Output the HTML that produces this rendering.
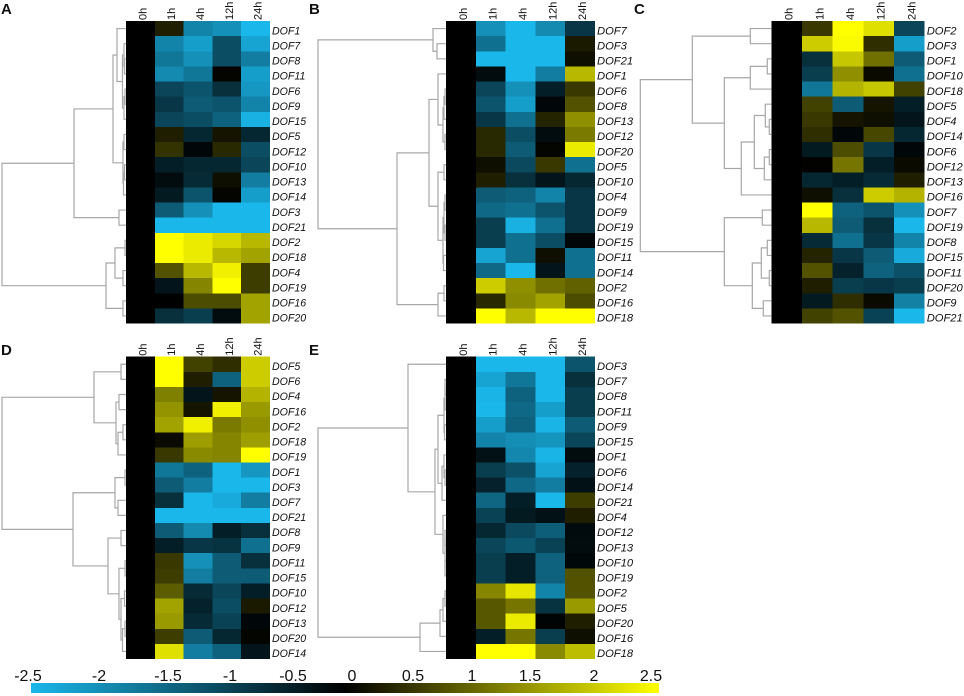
<!DOCTYPE html>
<html lang="en">
<head>
<meta charset="utf-8">
<title>DOF gene expression heatmaps</title>
<style>
html,body{margin:0;padding:0;background:#fff;}
#chart{display:block;width:964px;height:696px;font-family:"Liberation Sans",sans-serif;}
</style>
</head>
<body>
<svg id="chart" xmlns="http://www.w3.org/2000/svg" width="964" height="696" viewBox="0 0 964 696">
  <defs>
    <linearGradient id="scaleGradient" x1="0" x2="1" y1="0" y2="0">
      <stop offset="0" stop-color="#1ab7ea"/>
      <stop offset="0.5" stop-color="#000000"/>
      <stop offset="1" stop-color="#ffff00"/>
    </linearGradient>
  </defs>
  <g font-weight="bold" font-size="15" fill="#111">
    <text x="1" y="14">A</text>
    <text x="309" y="14">B</text>
    <text x="634" y="14">C</text>
    <text x="1" y="355">D</text>
    <text x="309" y="355">E</text>
  </g>
  <g id="panels"></g>
  <g>
    <rect x="31" y="683" width="628" height="10" fill="url(#scaleGradient)"/>
    <g font-size="16" fill="#111" text-anchor="middle">
      <text x="28" y="681">-2.5</text>
      <text x="99" y="681">-2</text>
      <text x="168" y="681">-1.5</text>
      <text x="230" y="681">-1</text>
      <text x="293" y="681">-0.5</text>
      <text x="352" y="681">0</text>
      <text x="413" y="681">0.5</text>
      <text x="472" y="681">1</text>
      <text x="530" y="681">1.5</text>
      <text x="594" y="681">2</text>
      <text x="651" y="681">2.5</text>
    </g>
  </g>
</svg>
<script>
const timepoints = ["0h","1h","4h","12h","24h"];

const genesA = ["DOF1","DOF7","DOF8","DOF11","DOF6","DOF9","DOF15","DOF5","DOF12","DOF10","DOF13","DOF14","DOF3","DOF21","DOF2","DOF18","DOF4","DOF19","DOF16","DOF20"];
const valuesA = [
  [0,0.3,-1.7,-1.9,-2.5],
  [0,-1.7,-2.1,-0.9,-2.2],
  [0,-1.5,-1.9,-0.9,-1.6],
  [0,-1.8,-1.5,0.05,-2.1],
  [0,-0.8,-1.0,-0.5,-2.0],
  [0,-0.6,-1.1,-1.0,-1.7],
  [0,-0.8,-0.9,-1.2,-2.4],
  [0,0.3,-0.4,0.2,-0.4],
  [0,0.5,-0.05,0.4,-0.9],
  [0,-0.3,-0.4,-0.4,-0.8],
  [0,-0.1,-0.45,0.15,-1.6],
  [0,-0.25,-1.0,0.05,-2.1],
  [0,-1.1,-1.9,-2.5,-2.5],
  [0,-2.5,-2.5,-2.5,-2.5],
  [0,2.5,2.3,2.1,1.8],
  [0,2.5,2.3,1.8,1.6],
  [0,0.8,1.8,2.35,0.6],
  [0,-0.2,1.3,2.5,0.6],
  [0,0,0.75,0.75,1.6],
  [0,-0.5,-0.7,-0.1,1.6]
];
const treeA = [124,[52,[13,[9,0,[3.5,[2,1,[1.5,2,3]],[2,[1,4,5],6]]],[3,[2,7,8],[2.5,[1.5,9,10],11]]],[7,12,13]],[20,[11,[1,14,15],[3,16,17]],[3,18,19]]];

const genesB = ["DOF7","DOF3","DOF21","DOF1","DOF6","DOF8","DOF13","DOF12","DOF20","DOF5","DOF10","DOF4","DOF9","DOF19","DOF15","DOF11","DOF14","DOF2","DOF16","DOF18"];
const valuesB = [
  [0,-1.9,-2.5,-1.8,-0.6],
  [0,-1.4,-2.5,-2.5,0.25],
  [0,-2.5,-2.5,-2.5,0.15],
  [0,-0.1,-2.5,-1.6,1.8],
  [0,-0.8,-1.9,-0.3,0.55],
  [0,-1.0,-2.1,-0.05,0.8],
  [0,-0.6,-1.4,0.35,1.4],
  [0,0.4,-0.9,-0.1,1.2],
  [0,0.4,-1.1,0.05,2.3],
  [0,0.15,-0.85,0.55,-1.4],
  [0,0.3,-0.5,-0.2,-0.4],
  [0,-1.1,-1.2,-1.7,-0.6],
  [0,-1.3,-1.4,-1.0,-0.6],
  [0,-0.7,-2.4,-1.4,-0.6],
  [0,-0.7,-1.4,-0.9,-0.05],
  [0,-2.2,-1.4,0.15,-1.4],
  [0,-1.3,-2.5,-0.2,-1.4],
  [0,2.0,1.4,1.1,0.95],
  [0,0.4,1.35,1.6,0.75],
  [0,2.5,1.8,2.5,2.5]
];
const treeB = [128,[13,0,[9,1,2]],[49,[17,[8,3,[3,[2,[1,4,5],6],[1,7,8]]],[8,[2,9,10],[3,[2,[1,11,12],[1,13,14]],[2.5,15,16]]]],[8,[2,17,18],19]]];

const genesC = ["DOF2","DOF3","DOF1","DOF10","DOF18","DOF5","DOF4","DOF14","DOF6","DOF12","DOF13","DOF16","DOF7","DOF19","DOF8","DOF15","DOF11","DOF20","DOF9","DOF21"];
const valuesC = [
  [0,0.55,2.5,2.2,-0.8],
  [0,2.0,2.45,0.45,-2.1],
  [0,-0.5,1.95,1.1,-1.1],
  [0,-0.7,1.4,0.1,-1.4],
  [0,-1.5,1.75,1.95,0.65],
  [0,0.65,-1.1,0.2,-0.3],
  [0,0.55,0.2,0.15,-0.2],
  [0,0.45,-0.05,0.7,-0.4],
  [0,-0.25,0.75,-0.6,-0.05],
  [0,0.02,1.15,-0.3,0.1],
  [0,-0.4,-0.3,-0.45,0.3],
  [0,0.15,-0.5,2.0,1.75],
  [0,2.5,-1.2,-1.0,-1.9],
  [0,1.8,-1.1,-0.5,-2.5],
  [0,-0.45,-1.4,-0.6,-1.7],
  [0,0.35,-0.6,-1.1,-2.3],
  [0,0.8,-0.35,-1.2,-0.95],
  [0,0.3,-0.7,-0.6,-0.7],
  [0,-0.25,0.45,0.1,-1.65],
  [0,0.65,0.8,-0.75,-2.5]
];
const treeC = [131,[79,[21,0,1],[47,[21,[4,2,3],4],[30,[17,[6,5,[2,6,7]],[7,[2,8,9],10]],11]]],[47,[9,12,13],[19,[10,[4,14,15],[2,16,17]],[8,18,19]]]];

const genesD = ["DOF5","DOF6","DOF4","DOF16","DOF2","DOF18","DOF19","DOF1","DOF3","DOF7","DOF21","DOF8","DOF9","DOF11","DOF15","DOF10","DOF12","DOF13","DOF20","DOF14"];
const valuesD = [
  [0,2.5,0.65,0.45,2.0],
  [0,2.5,0.3,-1.2,2.0],
  [0,1.25,-0.2,0.2,1.75],
  [0,1.45,0.2,2.35,1.5],
  [0,1.6,2.35,1.2,1.4],
  [0,0.1,1.55,1.3,1.55],
  [0,0.55,1.35,1.3,2.5],
  [0,-1.5,-1.2,-2.5,-2.0],
  [0,-1.1,-1.6,-2.5,-2.5],
  [0,-0.5,-2.5,-2.3,-1.6],
  [0,-2.5,-2.5,-2.5,-2.5],
  [0,-1.1,-1.8,-0.3,-0.5],
  [0,-0.3,-0.6,-0.55,-1.4],
  [0,0.55,-1.9,-1.1,-0.5],
  [0,0.6,-1.6,-1.1,-1.1],
  [0,0.9,-0.45,-0.8,-0.3],
  [0,1.6,-0.35,-0.9,0.25],
  [0,1.5,-0.45,-0.75,-0.05],
  [0,0.6,-1.1,-0.4,0.05],
  [0,2.2,-1.6,-1.2,-0.2]
];
const treeD = [124,[32,[5,0,1],[10,[7,2,3],[8,[3,4,5],6]]],[53,[11,[1,7,8],[8,9,10]],[18,[5,11,12],[7,[1,13,14],[5,[1.5,15,16],[3.5,[1,17,18],19]]]]]];

const genesE = ["DOF3","DOF7","DOF8","DOF11","DOF9","DOF15","DOF1","DOF6","DOF14","DOF21","DOF4","DOF12","DOF13","DOF10","DOF19","DOF2","DOF5","DOF20","DOF16","DOF18"];
const valuesE = [
  [0,-2.5,-2.5,-2.5,-1.0],
  [0,-2.2,-1.5,-2.5,-0.5],
  [0,-2.45,-1.2,-2.5,-0.7],
  [0,-2.5,-1.3,-2.1,-0.7],
  [0,-2.1,-1.2,-2.45,-1.1],
  [0,-1.7,-1.85,-1.95,-0.8],
  [0,-0.15,-1.75,-2.45,-0.1],
  [0,-0.7,-0.95,-2.2,-0.35],
  [0,-0.35,-1.3,-1.6,-0.15],
  [0,-1.25,-0.3,-2.5,0.6],
  [0,-0.75,-0.25,-0.15,0.3],
  [0,-0.4,-0.85,-1.15,-0.08],
  [0,-0.8,-1.05,-0.75,-0.1],
  [0,-0.7,-0.3,-1.2,-0.06],
  [0,-0.7,-0.3,-1.2,0.8],
  [0,1.3,2.25,-1.7,0.8],
  [0,0.85,1.15,-0.55,1.5],
  [0,0.85,2.3,-0.03,0.3],
  [0,-0.3,1.15,-0.7,0.15],
  [0,2.5,2.5,1.35,1.85]
];
const treeE = [128,[38,0,[11,[8,[2,[1,[1,1,2],3],[1.5,4,5]],[4,[2,6,[1,7,8]],9]],[3,10,[1,[1,11,12],[1,13,14]]]]],[26,[6,[3,[1,15,16],17],18],19]];

const SVG_NS = "http://www.w3.org/2000/svg";
const panelsRoot = document.getElementById("panels");

function colorFor(v) {
  const t = Math.min(1, Math.abs(v) / 2.5);
  if (v < 0) {
    const b = Math.pow(t, 0.85);
    return "rgb(" + Math.round(26 * b) + "," + Math.round(183 * b) + "," + Math.round(234 * b) + ")";
  }
  return "rgb(" + Math.round(255 * t) + "," + Math.round(255 * t) + ",0)";
}

function drawPanel(id, genes, values, tree, left, top, width, height, labelSize) {
  const colWidth = width / timepoints.length;
  const rowHeight = height / genes.length;
  const xScale = function (col) { return left + col * colWidth; };
  const yScale = function (row) { return top + row * rowHeight; };
  const rowCenter = function (row) { return yScale(row + 0.5); };
  const distanceScale = function (d) { return left - d; };

  const group = document.createElementNS(SVG_NS, "g");
  
  
  panelsRoot.appendChild(group);

  values.forEach(function (row, r) {
    row.forEach(function (v, c) {
      const cell = document.createElementNS(SVG_NS, "rect");
      cell.setAttribute("x", xScale(c));
      cell.setAttribute("y", yScale(r));
      cell.setAttribute("width", colWidth);
      cell.setAttribute("height", rowHeight);
      cell.setAttribute("fill", colorFor(v));
      cell.setAttribute("shape-rendering", "crispEdges");
      
      
      group.appendChild(cell);
    });
  });

  timepoints.forEach(function (label, c) {
    const cx = xScale(c + 0.5) + 6;
    const by = top - 1;
    const text = document.createElementNS(SVG_NS, "text");
    text.setAttribute("transform", "translate(" + cx + "," + by + ") rotate(-90)");
    text.setAttribute("font-size", "11");
    text.setAttribute("fill", "#111");
    text.textContent = label;
    
    
    group.appendChild(text);
  });

  genes.forEach(function (gene, r) {
    const text = document.createElementNS(SVG_NS, "text");
    text.setAttribute("x", left + width + 2);
    text.setAttribute("y", rowCenter(r) + 5.7);
    text.setAttribute("font-size", labelSize);
    text.setAttribute("font-style", "italic");
    text.setAttribute("fill", "#111");
    text.textContent = gene;
    
    
    group.appendChild(text);
  });

  function drawNode(node) {
    if (typeof node === "number") {
      return { x: left, y: rowCenter(node) };
    }
    const a = drawNode(node[1]);
    const b = drawNode(node[2]);
    const x = distanceScale(node[0]);
    const link = document.createElementNS(SVG_NS, "path");
    link.setAttribute("d", "M" + a.x + "," + a.y + "H" + x + "V" + b.y + "H" + b.x);
    link.setAttribute("fill", "none");
    link.setAttribute("stroke", "#a8a8a8");
    link.setAttribute("stroke-width", "1.2");
    
    
    group.appendChild(link);
    return { x: x, y: (a.y + b.y) / 2 };
  }
  drawNode(tree);
}

drawPanel("a", genesA, valuesA, treeA, 126, 21, 144, 302.5, 10.6);
drawPanel("b", genesB, valuesB, treeB, 446, 21, 149, 302.5, 11.2);
drawPanel("c", genesC, valuesC, treeC, 771.3, 21, 153.4, 302.5, 11.2);
drawPanel("d", genesD, valuesD, treeD, 126, 356.7, 144, 302.3, 10.6);
drawPanel("e", genesE, valuesE, treeE, 446, 356.7, 149, 302.3, 11.2);
</script>
</body>
</html>
